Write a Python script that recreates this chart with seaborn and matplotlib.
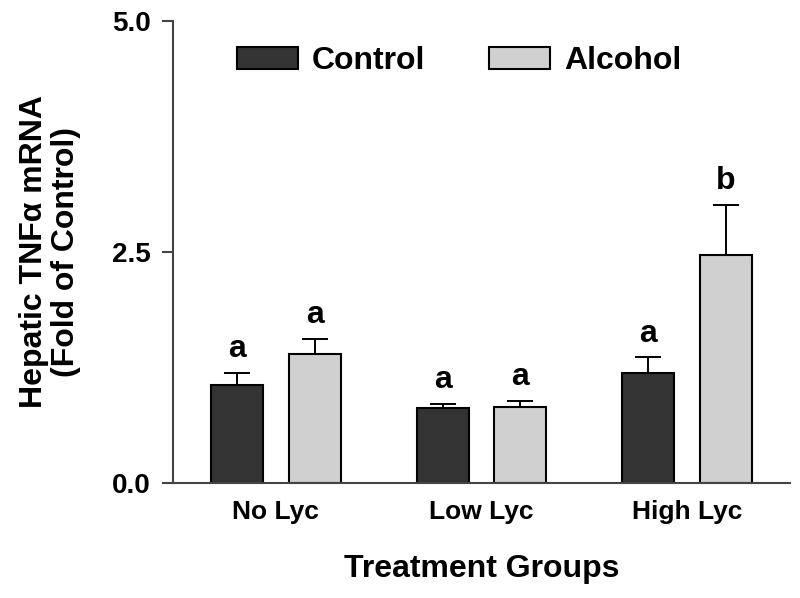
import pandas as pd
import seaborn as sns
import matplotlib.pyplot as plt

# values (fold of control, mean and SEM)
groups = ["No Lyc", "Low Lyc", "High Lyc"]
diets = ["Control", "Alcohol"]
control_mean = [1.06, 0.81, 1.19]
control_sem = [0.13, 0.05, 0.17]
alcohol_mean = [1.40, 0.82, 2.47]
alcohol_sem = [0.16, 0.07, 0.54]
control_sig = ["a", "a", "a"]
alcohol_sig = ["a", "a", "b"]
y_ticks = [0.0, 2.5, 5.0]

df = pd.DataFrame({
    "group": groups * 2,
    "diet": ["Control"] * 3 + ["Alcohol"] * 3,
    "value": control_mean + alcohol_mean,
})

sns.set_theme(style="ticks")
plt.rcParams["font.family"] = ["Liberation Sans", "DejaVu Sans"]
plt.rcParams["text.color"] = "black"
plt.rcParams["axes.labelcolor"] = "black"

fig = plt.figure(figsize=(8, 5.98), dpi=100)
ax = fig.add_axes([173 / 800, 1 - 483 / 598, 617 / 800, 462 / 598])

sns.barplot(data=df, x="group", y="value", hue="diet",
            order=groups, hue_order=diets,
            palette=["#333333", "#d0d0d0"],
            width=0.755, gap=0.33, edgecolor="black", linewidth=1.5,
            errorbar=None, ax=ax)

# one-sided error bars and significance letters
for cont, sems, sigs in zip(ax.containers,
                            [control_sem, alcohol_sem],
                            [control_sig, alcohol_sig]):
    for bar, e, s in zip(cont, sems, sigs):
        x = bar.get_x() + bar.get_width() / 2
        h = bar.get_height()
        ax.errorbar(x, h, yerr=[[0], [e]], fmt="none", ecolor="black",
                    elinewidth=1.4, capsize=9.5, capthick=1.4, zorder=1)
        ax.text(x, h + e + 0.17, s, ha="center", va="baseline",
                fontsize=23, fontweight="bold", color="black")

ax.set_xlim(-0.5, 2.5)
ax.set_ylim(0, 5)
ax.set_yticks(y_ticks)
ax.set_yticklabels([f"{t:.1f}" for t in y_ticks])

ax.tick_params(axis="y", length=8, width=1.5, color="#444444", pad=8,
               labelsize=20, labelcolor="black")
ax.tick_params(axis="x", length=0, pad=12, labelsize=19, labelcolor="black")
for lab in ax.get_xticklabels() + ax.get_yticklabels():
    lab.set_fontweight("bold")

sns.despine(ax=ax)
for side in ["left", "bottom"]:
    ax.spines[side].set_color("#444444")
    ax.spines[side].set_linewidth(1.5)

ax.set_xlabel("Treatment Groups", fontsize=23, fontweight="bold", labelpad=22)
ax.set_ylabel("Hepatic TNF\u03b1 mRNA\n(Fold of Control)", fontsize=23,
              fontweight="bold", labelpad=22, linespacing=1.1)

ax.legend(loc="center left", bbox_to_anchor=(237 / 800, 1 - 61 / 598),
          bbox_transform=fig.transFigure, ncol=2, frameon=False,
          prop={"weight": "bold", "size": 23},
          handlelength=1.9, handleheight=0.7, handletextpad=0.45,
          columnspacing=2.0, borderpad=0, borderaxespad=0)

fig.savefig("out.png", dpi=100)
